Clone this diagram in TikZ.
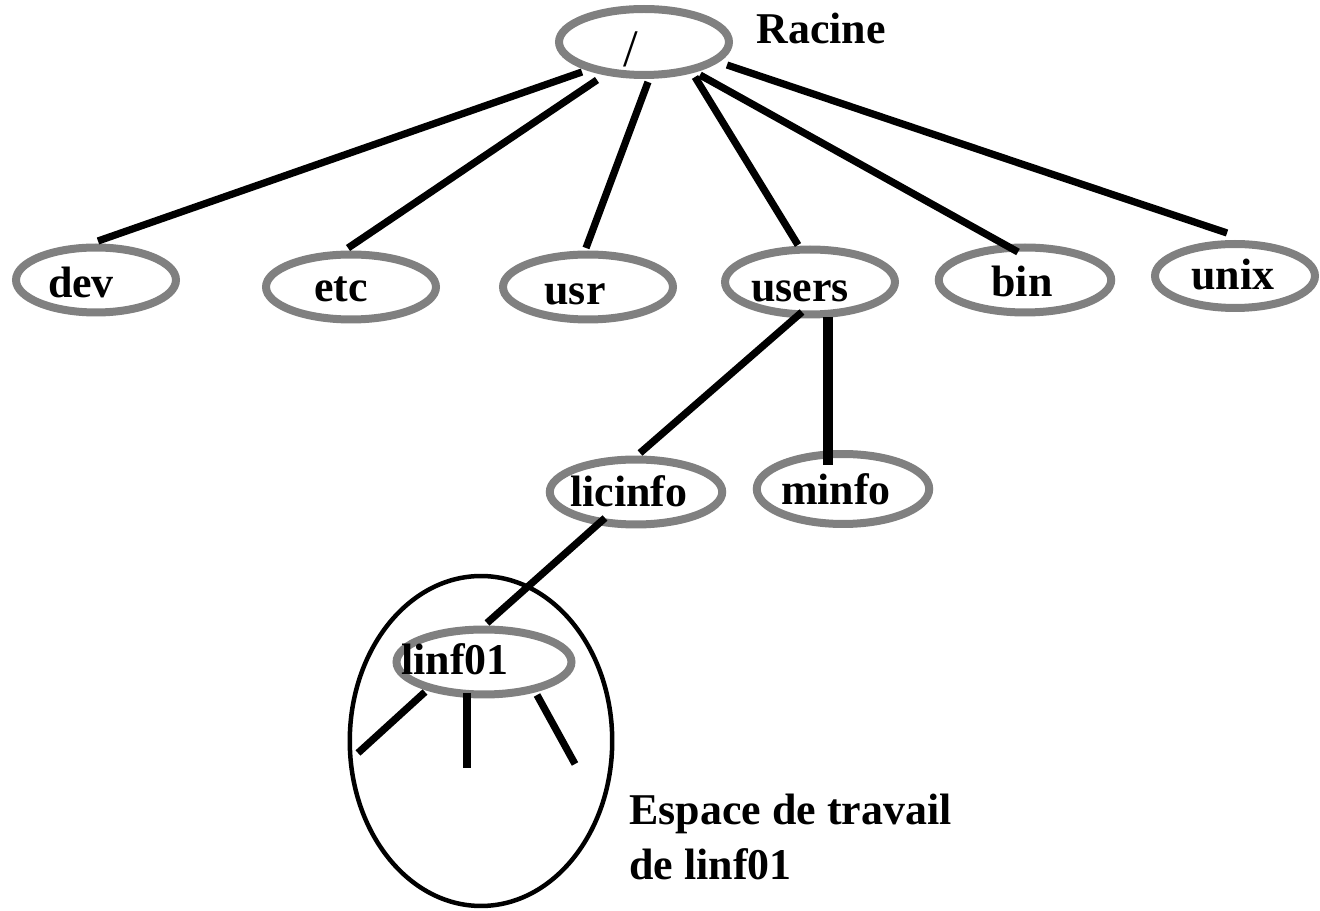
\documentclass[tikz,border=0pt]{standalone}
\usepackage{fontspec}
\setmainfont{Liberation Serif}
\usetikzlibrary{shapes.geometric}
\definecolor{ringgray}{RGB}{128,128,128}
\begin{document}
\begin{tikzpicture}[x=0.02cm,y=-0.02cm,
  dirnode/.style={ellipse,draw=ringgray,line width=0.16cm,inner sep=0pt,
    minimum width=3.4cm,minimum height=1.3cm},
  lbl/.style={anchor=base,inner sep=0pt,font=\fontsize{25}{30}\selectfont\bfseries},
  link/.style={line width=0.145cm,black},
  thick link/.style={line width=0.2cm,black}]
\useasboundingbox (0,0) rectangle (1320,911);
% directory rings
\node[dirnode,minimum width=3.4cm,minimum height=1.32cm] (root) at (644,42) {};
\node[dirnode,minimum width=3.2cm] (dev) at (96,280) {};
\node[dirnode] (etc) at (351,287) {};
\node[dirnode] (usr) at (588,287) {};
\node[dirnode] (users) at (810,282) {};
\node[dirnode,minimum width=3.45cm] (bin) at (1025,280) {};
\node[dirnode,minimum width=3.2cm,minimum height=1.28cm] (unix) at (1235,276) {};
\node[dirnode,minimum width=3.45cm] (licinfo) at (636,492) {};
\node[dirnode,minimum width=3.45cm,minimum height=1.4cm] (minfo) at (843,489) {};
\node[dirnode,minimum width=3.5cm] (linf01) at (484,662) {};
% workspace boundary
\node[ellipse,draw=black,line width=0.09cm,inner sep=0pt,
  minimum width=5.25cm,minimum height=6.6cm] (space) at (481,741) {};
% names
\node[inner sep=0pt,anchor=base,font=\fontsize{30}{34}\selectfont] (roottxt) at (631,67) {/};
\node[lbl,anchor=base west] (racine) at (756,44) {Racine};
\node[lbl] (devtxt) at (81,298) {dev};
\node[lbl] (etctxt) at (341,302) {etc};
\node[lbl] (usrtxt) at (575,305) {usr};
\node[lbl] (userstxt) at (800,302) {users};
\node[lbl] (bintxt) at (1022,297) {bin};
\node[lbl] (unixtxt) at (1233,290) {unix};
\node[lbl] (licinfotxt) at (629,507) {licinfo};
\node[lbl] (minfotxt) at (836,505) {minfo};
\node[lbl] (linftxt) at (455,675) {linf01};
\node[lbl,anchor=base west] (cap1) at (629,825) {Espace de travail};
\node[lbl,anchor=base west] (cap2) at (629,880) {de linf01};
% branches from the root
\draw[link] ([shift={(-62,30)}]root.center) -- ([shift={(2,-39)}]dev.center);
\draw[link] ([shift={(-47,38)}]root.center) -- ([shift={(-3,-39)}]etc.center);
\draw[link] ([shift={(4,40)}]root.center) -- ([shift={(-2,-39)}]usr.center);
\draw[link] ([shift={(51,35)}]root.center) -- ([shift={(-12,-37)}]users.center);
\draw[link] ([shift={(56,33)}]root.center) -- ([shift={(-7,-28)}]bin.center);
\draw[link] ([shift={(83,23)}]root.center) -- ([shift={(-8,-43)}]unix.center);
% branches under users
\draw[link] ([shift={(-8,30)}]users.center) -- ([shift={(4,-39)}]licinfo.center);
\draw[thick link] ([shift={(18,35)}]users.center) -- ([shift={(-15,-24)}]minfo.center);
\draw[link] ([shift={(-31,26)}]licinfo.center) -- ([shift={(3,-39)}]linf01.center);
% open branches under linf01
\coordinate (leafa) at (358,753);
\coordinate (leafb) at (467,768);
\coordinate (leafc) at (575,764);
\draw[link] ([shift={(-59,30)}]linf01.center) -- (leafa);
\draw[link] ([shift={(-17,31)}]linf01.center) -- (leafb);
\draw[link] ([shift={(53,33)}]linf01.center) -- (leafc);
\end{tikzpicture}
\end{document}
